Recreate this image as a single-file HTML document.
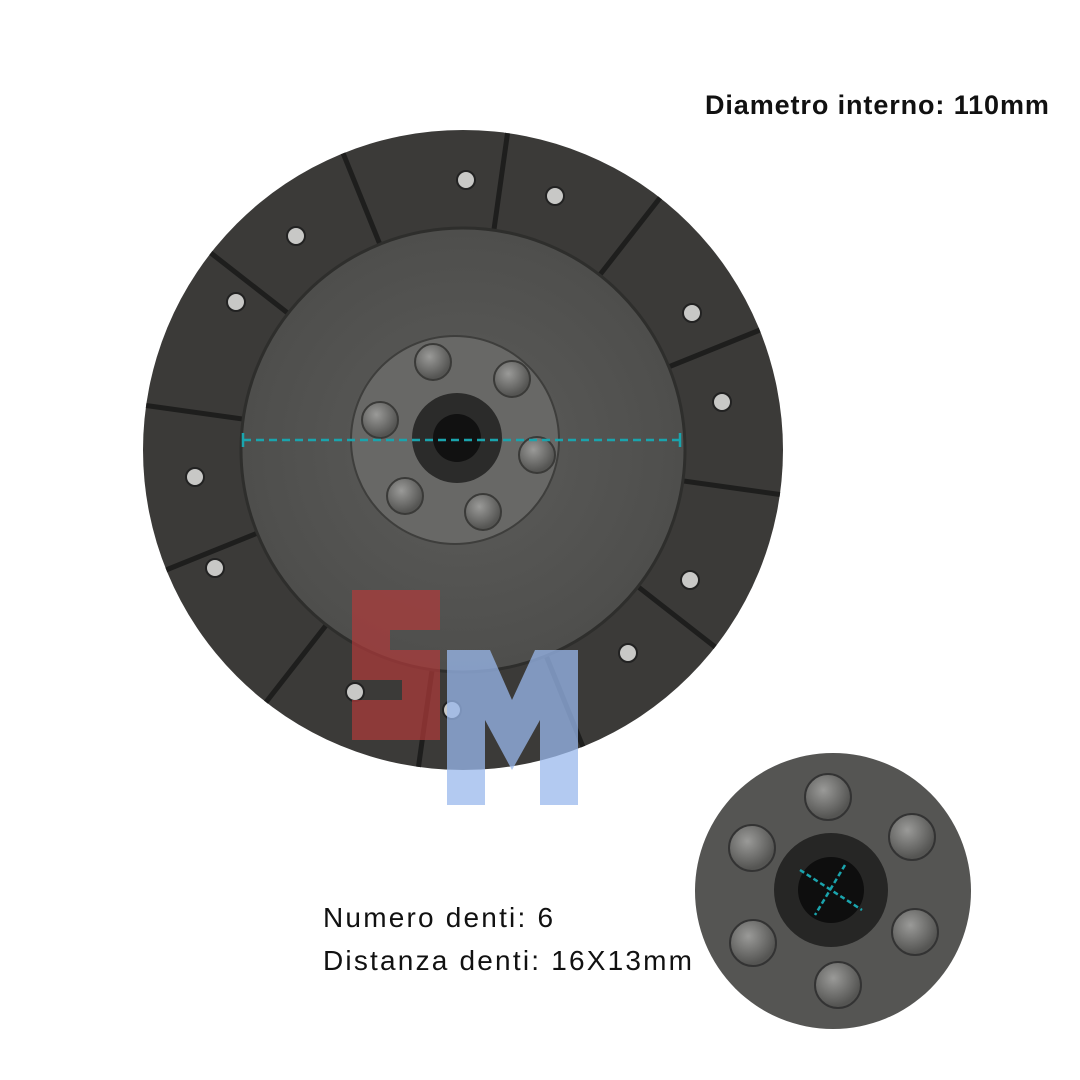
<!DOCTYPE html>
<html><head><meta charset="utf-8"><style>
html,body{margin:0;padding:0;background:#fff;}
body{width:1080px;height:1080px;position:relative;overflow:hidden;font-family:"Liberation Sans",sans-serif;}
.t{position:absolute;color:#111;font-size:28px;white-space:nowrap;}
</style></head><body>
<svg width="1080" height="1080" style="position:absolute;left:0;top:0">
<defs>
<radialGradient id="g1" cx="50%" cy="50%" r="50%"><stop offset="0" stop-color="#5c5c5a"/><stop offset="1" stop-color="#4e4e4c"/></radialGradient>
<radialGradient id="rv" cx="40%" cy="35%" r="60%"><stop offset="0" stop-color="#9a9a98"/><stop offset="1" stop-color="#555553"/></radialGradient>
</defs>
<circle cx="463" cy="450" r="320" fill="#3b3a38"/>
<g stroke="#1e1e1d" stroke-width="5">
<line x1="463" y1="450" x2="463" y2="130" transform="rotate(8 463 450)"/>
<line x1="463" y1="450" x2="463" y2="130" transform="rotate(38 463 450)"/>
<line x1="463" y1="450" x2="463" y2="130" transform="rotate(68 463 450)"/>
<line x1="463" y1="450" x2="463" y2="130" transform="rotate(98 463 450)"/>
<line x1="463" y1="450" x2="463" y2="130" transform="rotate(128 463 450)"/>
<line x1="463" y1="450" x2="463" y2="130" transform="rotate(158 463 450)"/>
<line x1="463" y1="450" x2="463" y2="130" transform="rotate(188 463 450)"/>
<line x1="463" y1="450" x2="463" y2="130" transform="rotate(218 463 450)"/>
<line x1="463" y1="450" x2="463" y2="130" transform="rotate(248 463 450)"/>
<line x1="463" y1="450" x2="463" y2="130" transform="rotate(278 463 450)"/>
<line x1="463" y1="450" x2="463" y2="130" transform="rotate(308 463 450)"/>
<line x1="463" y1="450" x2="463" y2="130" transform="rotate(338 463 450)"/>
</g>
<circle cx="463" cy="450" r="222" fill="url(#g1)" stroke="#2e2e2c" stroke-width="3"/>
<g fill="#c8c8c6" stroke="#222" stroke-width="2">
<circle cx="466" cy="180" r="9"/><circle cx="555" cy="196" r="9"/><circle cx="692" cy="313" r="9"/><circle cx="722" cy="402" r="9"/>
<circle cx="690" cy="580" r="9"/><circle cx="628" cy="653" r="9"/><circle cx="452" cy="710" r="9"/><circle cx="355" cy="692" r="9"/>
<circle cx="215" cy="568" r="9"/><circle cx="195" cy="477" r="9"/><circle cx="236" cy="302" r="9"/><circle cx="296" cy="236" r="9"/>
</g>
<circle cx="455" cy="440" r="104" fill="#686866" stroke="#3e3e3c" stroke-width="2"/>
<g fill="url(#rv)" stroke="#3a3a38" stroke-width="2">
<circle cx="433" cy="362" r="18"/><circle cx="512" cy="379" r="18"/><circle cx="537" cy="455" r="18"/>
<circle cx="483" cy="512" r="18"/><circle cx="405" cy="496" r="18"/><circle cx="380" cy="420" r="18"/>
</g>
<circle cx="457" cy="438" r="45" fill="#2b2b2a"/>
<circle cx="457" cy="438" r="24" fill="#111"/>
<line x1="243" y1="440" x2="680" y2="440" stroke="#1aa4ad" stroke-width="2.5" stroke-dasharray="8 5"/>
<line x1="243" y1="433" x2="243" y2="447" stroke="#1aa4ad" stroke-width="2.5"/>
<line x1="680" y1="433" x2="680" y2="447" stroke="#1aa4ad" stroke-width="2.5"/>
<path d="M352 590 H440 V630 H390 V650 H440 V740 H352 V700 H402 V680 H352 Z" fill="#b03a3a" opacity="0.7"/>
<path d="M447 650 H490 L512 700 L535 650 H578 V805 H540 V720 L512 770 L485 720 V805 H447 Z" fill="#9ab8ec" opacity="0.75"/>
<circle cx="833" cy="891" r="138" fill="#555553"/>
<g fill="url(#rv)" stroke="#333" stroke-width="2">
<circle cx="828" cy="797" r="23"/><circle cx="912" cy="837" r="23"/><circle cx="915" cy="932" r="23"/>
<circle cx="838" cy="985" r="23"/><circle cx="753" cy="943" r="23"/><circle cx="752" cy="848" r="23"/>
</g>
<circle cx="831" cy="890" r="57" fill="#262625"/>
<circle cx="831" cy="890" r="33" fill="#0e0e0e"/>
<line x1="800" y1="870" x2="862" y2="910" stroke="#1aa4ad" stroke-width="2.5" stroke-dasharray="5 3"/>
<line x1="845" y1="865" x2="815" y2="915" stroke="#1aa4ad" stroke-width="2.5" stroke-dasharray="5 3"/>
</svg>
<div class="t" style="left:705px;top:90px;font-weight:bold;font-size:27px;letter-spacing:0.9px">Diametro interno: 110mm</div>
<div class="t" style="left:323px;top:902px;letter-spacing:2.2px">Numero denti: 6</div>
<div class="t" style="left:323px;top:945px;letter-spacing:2.2px">Distanza denti: 16X13mm</div>
</body></html>
